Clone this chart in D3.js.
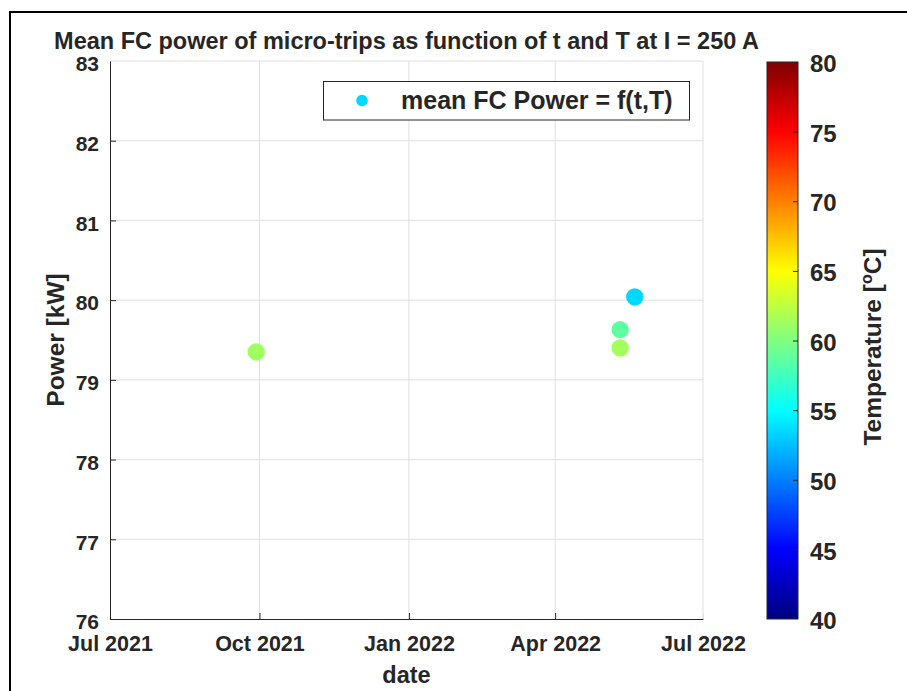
<!DOCTYPE html>
<html>
<head>
<meta charset="utf-8">
<script src="https://cdn.jsdelivr.net/npm/d3@7"></script>
<style>
  html, body { margin: 0; padding: 0; background: #fff; }
  svg { display: block; }
  text { font-family: "Liberation Sans", Arial, Helvetica, sans-serif; font-weight: bold; fill: #262626; }
</style>
</head>
<body>
<script>
// Micro-trip measurements: date, mean fuel-cell power and stack temperature
const tripDates = ["2021-09-29", "2022-05-11", "2022-05-11", "2022-05-20"];
const meanPower = [79.35, 79.63, 79.40, 80.04];      // kW
const temperature = [61.2, 58.7, 61.4, 53.5];         // °C

const xTickDates = ["2021-07-01", "2021-10-01", "2022-01-01", "2022-04-01", "2022-07-01"];
const xTickLabels = ["Jul 2021", "Oct 2021", "Jan 2022", "Apr 2022", "Jul 2022"];
const yTicks = [76, 77, 78, 79, 80, 81, 82, 83];
const cbarTicks = [40, 45, 50, 55, 60, 65, 70, 75, 80];

const W = 907, H = 691;
const plot = { left: 110, right: 703, top: 61, bottom: 619 };
const cbar = { left: 767, right: 798, top: 62, bottom: 619 };
const ink = "#262626";
const gridCol = "#dfdfdf";

const parse = d3.utcParse("%Y-%m-%d");

const svg = d3.select("body").append("svg").attr("width", W).attr("height", H);

// outer figure frame
svg.append("rect").attr("x", 10).attr("y", 12).attr("width", W + 10).attr("height", H + 10)
  .attr("fill", "#fff").attr("stroke", "#000").attr("stroke-width", 2);

const x = d3.scaleUtc()
  .domain([parse(xTickDates[0]), parse(xTickDates[xTickDates.length - 1])])
  .range([plot.left, plot.right]);
const y = d3.scaleLinear().domain([76, 83]).range([plot.bottom, plot.top]);
const tScale = d3.scaleLinear().domain([40, 80]).range([cbar.bottom, cbar.top]);

// jet colormap
function jet(f) {
  const c = v => Math.max(0, Math.min(1, v));
  const r = c(1.5 - Math.abs(4 * f - 3));
  const g = c(1.5 - Math.abs(4 * f - 2));
  const b = c(1.5 - Math.abs(4 * f - 1));
  return d3.rgb(r * 255, g * 255, b * 255).formatHex();
}
const color = t => jet((t - 40) / 40);

// grid
const grid = svg.append("g");
grid.selectAll("line.gx").data(xTickDates.slice(1)).join("line")
  .attr("x1", d => x(parse(d))).attr("x2", d => x(parse(d)))
  .attr("y1", plot.top).attr("y2", plot.bottom)
  .attr("stroke", gridCol).attr("stroke-width", 1);
grid.selectAll("line.gy").data(yTicks.slice(1)).join("line")
  .attr("x1", plot.left).attr("x2", plot.right)
  .attr("y1", d => y(d)).attr("y2", d => y(d))
  .attr("stroke", gridCol).attr("stroke-width", 1);

// axes
const xAxis = d3.axisBottom(x)
  .tickValues(xTickDates.map(parse))
  .tickFormat((d, i) => xTickLabels[i])
  .tickSizeInner(-6).tickSizeOuter(0).tickPadding(17);
const gx = svg.append("g").attr("transform", `translate(0,${plot.bottom})`).call(xAxis);
gx.select(".domain").attr("stroke", ink);
gx.selectAll(".tick line").attr("stroke", ink);
gx.selectAll(".tick text").style("font-size", "21.5px").attr("fill", ink);

const yAxis = d3.axisLeft(y).tickValues(yTicks).tickFormat(d3.format("d"))
  .tickSizeInner(-6).tickSizeOuter(0).tickPadding(11);
const gy = svg.append("g").attr("transform", `translate(${plot.left},0)`).call(yAxis);
gy.select(".domain").attr("stroke", ink);
gy.selectAll(".tick line").attr("stroke", ink);
gy.selectAll(".tick text").style("font-size", "21px").attr("fill", ink).attr("y", 3);
gy.selectAll(".tick").filter(d => d === 83).select("line").remove();
gx.selectAll(".tick").filter((d, i) => i === xTickDates.length - 1).select("line").attr("stroke", gridCol);

// points
const pts = tripDates.map((d, i) => ({ date: parse(d), p: meanPower[i], t: temperature[i] }));
svg.append("g").selectAll("circle").data(pts).join("circle")
  .attr("cx", d => x(d.date)).attr("cy", d => y(d.p)).attr("r", 8.7)
  .attr("fill", d => color(d.t));

// title and axis labels
svg.append("text").attr("x", (plot.left + plot.right) / 2).attr("y", 49)
  .attr("text-anchor", "middle").style("font-size", "23.5px")
  .text("Mean FC power of micro-trips as function of t and T at I = 250 A");
svg.append("text").attr("x", (plot.left + plot.right) / 2).attr("y", 683)
  .attr("text-anchor", "middle").style("font-size", "23.5px").text("date");
svg.append("text").attr("transform", `translate(64,${(plot.top + plot.bottom) / 2}) rotate(-90)`)
  .attr("text-anchor", "middle").style("font-size", "24.5px").text("Power [kW]");

// legend
const lg = svg.append("g");
lg.append("rect").attr("x", 323.5).attr("y", 81.5).attr("width", 366).attr("height", 38.5)
  .attr("fill", "#fff").attr("stroke", ink).attr("stroke-width", 1);
lg.append("circle").attr("cx", 362).attr("cy", 100.5).attr("r", 5.8).attr("fill", color(temperature[3]));
lg.append("text").attr("x", 401).attr("y", 109).style("font-size", "25px").text("mean FC Power = f(t,T)");

// colorbar
const defs = svg.append("defs");
const grad = defs.append("linearGradient").attr("id", "jetgrad")
  .attr("x1", 0).attr("y1", 1).attr("x2", 0).attr("y2", 0);
d3.range(0, 1.0001, 1 / 64).forEach(f => {
  grad.append("stop").attr("offset", f).attr("stop-color", jet(f));
});
svg.append("rect").attr("x", cbar.left).attr("y", cbar.top)
  .attr("width", cbar.right - cbar.left).attr("height", cbar.bottom - cbar.top)
  .attr("fill", "url(#jetgrad)").attr("stroke", ink).attr("stroke-width", 1);
const cAxis = d3.axisRight(tScale).tickValues(cbarTicks).tickFormat(d3.format("d"))
  .tickSizeInner(-5).tickSizeOuter(0).tickPadding(12);
const gc = svg.append("g").attr("transform", `translate(${cbar.right},0)`).call(cAxis);
gc.select(".domain").remove();
gc.selectAll(".tick line").attr("stroke", ink);
gc.selectAll(".tick").filter(d => d === 40 || d === 80).select("line").remove();
gc.selectAll(".tick text").style("font-size", "24px").attr("fill", ink).attr("y", 2);

const cl = svg.append("text")
  .attr("transform", `translate(881,347) rotate(-90)`)
  .attr("text-anchor", "middle").style("font-size", "24.5px");
cl.append("tspan").text("Temperature [");
cl.append("tspan").attr("dy", -9).style("font-size", "16px").text("o");
cl.append("tspan").attr("dy", 9).text("C]");
</script>
</body>
</html>
